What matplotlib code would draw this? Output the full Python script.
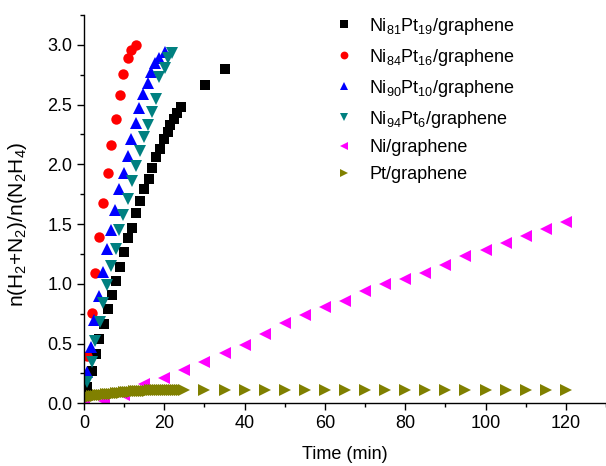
import matplotlib
matplotlib.use("Agg")
import matplotlib.pyplot as plt
from matplotlib.ticker import MultipleLocator

plt.rcParams["font.family"] = ["Liberation Sans", "DejaVu Sans"]
plt.rcParams["mathtext.fontset"] = "custom"
plt.rcParams["mathtext.rm"] = "Liberation Sans"
plt.rcParams["mathtext.it"] = "Liberation Sans:italic"
plt.rcParams["mathtext.default"] = "regular"

# ---- data ----
t_ni81 = [0.8, 1.9, 3.0, 3.8, 5.0, 6.1, 6.9, 8.0, 9.0, 10.0, 10.9, 11.9, 13.0, 14.0,
          15.0, 16.1, 16.9, 17.9, 19.0, 20.0, 20.9, 21.5, 22.3, 23.2, 24.25, 30.1, 35.0]
y_ni81 = [0.14, 0.27, 0.41, 0.54, 0.66, 0.79, 0.91, 1.02, 1.14, 1.27, 1.38, 1.47, 1.59, 1.69,
          1.79, 1.88, 1.97, 2.06, 2.13, 2.21, 2.27, 2.33, 2.38, 2.43, 2.48, 2.66, 2.80]

t_ni84 = [0.7, 1.9, 2.8, 3.8, 4.8, 5.9, 6.8, 7.9, 8.9, 9.8, 10.9, 11.8, 12.9]
y_ni84 = [0.40, 0.76, 1.09, 1.39, 1.68, 1.93, 2.16, 2.38, 2.58, 2.76, 2.89, 2.96, 3.00]

t_ni90 = [0.7, 1.7, 2.5, 3.8, 4.8, 5.8, 6.8, 7.8, 8.8, 9.9, 10.9, 11.8, 12.9, 13.8,
          14.8, 15.9, 16.75, 17.75, 18.75, 20.1]
y_ni90 = [0.26, 0.47, 0.70, 0.90, 1.10, 1.29, 1.45, 1.62, 1.79, 1.93, 2.07, 2.21, 2.35, 2.47,
          2.59, 2.68, 2.77, 2.85, 2.89, 2.94]

t_ni94 = [0.8, 1.9, 2.75, 4.0, 4.8, 5.8, 6.75, 7.9, 8.8, 9.8, 10.9, 11.9, 12.9, 14.0,
          14.9, 15.9, 16.9, 18.0, 18.8, 20.1, 20.9, 21.9]
y_ni94 = [0.18, 0.35, 0.52, 0.68, 0.84, 0.99, 1.15, 1.29, 1.45, 1.58, 1.71, 1.86, 1.99, 2.11,
          2.23, 2.33, 2.44, 2.55, 2.73, 2.81, 2.89, 2.93]

t_ni = [0, 5, 10, 15, 20, 25, 30, 35, 40, 45, 50, 55, 60, 65, 70, 75, 80, 85, 90, 95,
        100, 105, 110, 115, 120]
y_ni = [0.0, 0.02, 0.07, 0.16, 0.21, 0.28, 0.35, 0.42, 0.49, 0.58, 0.67, 0.74, 0.81, 0.86,
        0.94, 1.00, 1.04, 1.09, 1.16, 1.23, 1.28, 1.34, 1.40, 1.46, 1.52]

t_pt = [0, 0.5, 1, 1.5, 2, 2.5, 3, 3.5, 4, 4.5, 5,
        5.5, 6, 6.5, 7, 7.5, 8, 8.5, 9, 9.5, 10,
        10.5, 11, 11.5, 12, 12.5, 13, 13.5, 14, 14.5, 15,
        15.5, 16, 16.5, 17, 17.5, 18, 18.5, 19, 19.5, 20,
        20.5, 21, 21.5, 22, 22.5, 23, 23.5, 24, 24.5, 25,
        30, 35, 40, 45, 50, 55, 60, 65, 70, 75, 80, 85, 90, 95, 100, 105, 110, 115, 120]
y_pt = [0.04, 0.045, 0.05, 0.055, 0.058, 0.06, 0.063, 0.066, 0.068, 0.07, 0.072,
        0.074, 0.076, 0.078, 0.08, 0.082, 0.084, 0.086, 0.088, 0.09, 0.092,
        0.094, 0.095, 0.097, 0.098, 0.1, 0.101, 0.102, 0.103, 0.104, 0.105,
        0.106, 0.107, 0.108, 0.109, 0.11, 0.11, 0.111, 0.111, 0.112, 0.112,
        0.113, 0.113, 0.113, 0.114, 0.114, 0.114, 0.115, 0.115, 0.115, 0.115,
        0.115, 0.115, 0.115, 0.115, 0.115, 0.115, 0.115, 0.115, 0.115, 0.115,
        0.115, 0.115, 0.115, 0.115, 0.115, 0.115, 0.115, 0.115, 0.115]

series = [
    (t_ni81, y_ni81, "s", "#000000", 7.0, r"$Ni_{81}Pt_{19}$/graphene"),
    (t_ni84, y_ni84, "o", "#ff0000", 7.5, r"$Ni_{84}Pt_{16}$/graphene"),
    (t_ni90, y_ni90, "^", "#0000ff", 8.5, r"$Ni_{90}Pt_{10}$/graphene"),
    (t_ni94, y_ni94, "v", "#008080", 8.5, r"$Ni_{94}Pt_{6}$/graphene"),
    (t_ni, y_ni, "<", "#ff00ff", 8.5, "Ni/graphene"),
    (t_pt, y_pt, ">", "#808000", 8.5, "Pt/graphene"),
]

# ---- plot ----
fig = plt.figure(figsize=(6.06, 4.66), dpi=100)
ax = fig.add_axes([0.1386, 0.1345, 0.8614, 0.8333])

for x, y, m, c, ms, lab in series:
    ax.plot(x, y, linestyle="none", marker=m, color=c, markersize=ms,
            markeredgewidth=0, label=lab)

ax.set_xlim(0, 130)
ax.set_ylim(0, 3.25)
ax.xaxis.set_major_locator(MultipleLocator(20))
ax.xaxis.set_minor_locator(MultipleLocator(10))
ax.yaxis.set_major_locator(MultipleLocator(0.5))
ax.yaxis.set_minor_locator(MultipleLocator(0.25))
ax.yaxis.set_major_formatter(matplotlib.ticker.FormatStrFormatter("%.1f"))

for s in ["top", "right"]:
    ax.spines[s].set_visible(False)
for s in ["left", "bottom"]:
    ax.spines[s].set_linewidth(1.0)

ax.tick_params(which="major", direction="out", length=5, width=1.0, labelsize=13)
ax.tick_params(which="minor", direction="out", length=3, width=1.0)

ax.set_xlabel("Time (min)", fontsize=13, labelpad=10)
ax.set_ylabel(r"n($H_2$+$N_2$)/n($N_2H_4$)", fontsize=15)
ax.yaxis.set_label_coords(-0.105, 0.46)

leg = ax.legend(loc="upper left", bbox_to_anchor=(0.446, 1.04), frameon=False,
                fontsize=13, handletextpad=0.8, labelspacing=0.55,
                markerscale=0.75, handlelength=1.2)

fig.savefig("out.png", dpi=100)
